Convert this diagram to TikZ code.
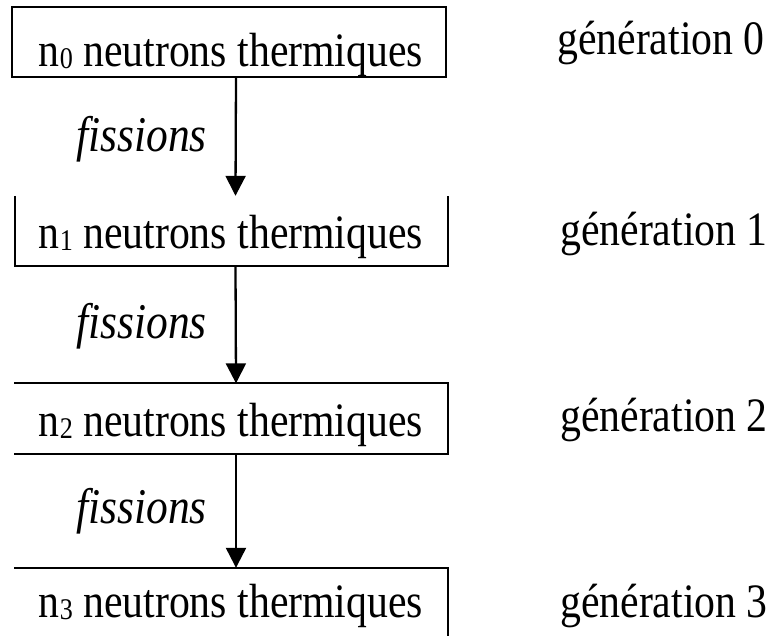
\documentclass[tikz,border=0pt]{standalone}
\usepackage{fontspec}
\setmainfont[FakeStretch=0.87]{Liberation Serif}
\usetikzlibrary{arrows.meta}
\newcommand{\lowidx}[1]{\raisebox{-2pt}{\fontsize{30}{30}\selectfont #1}}
\tikzset{
  box/.style={draw=none, minimum width=433pt, minimum height=70pt, inner sep=0pt},
  edge/.style={line width=2.3pt},
  lbl/.style={font=\fontsize{48}{52}\selectfont, inner sep=0pt, anchor=base},
  fis/.style={font=\fontsize{50}{54}\selectfont\itshape, inner sep=0pt, anchor=base west},
  gen/.style={font=\fontsize{48}{52}\selectfont, inner sep=0pt, anchor=base west},
  arr/.style={line width=2.3pt, -{Triangle[width=20pt,length=20pt]}}
}
\begin{document}
\begin{tikzpicture}[x=1pt,y=-1pt]
\useasboundingbox (0,0) rectangle (770,636);
\fill[white] (0,0) rectangle (770,636);
% boxes
\node[box] (b0) at (229,42) {};
\node[box] (b1) at (231.5,231) {};
\node[box] (b2) at (231,418.5) {};
\node[box] (b3) at (231,603) {};
\draw[edge] (b0.north west) rectangle (b0.south east);
\draw[edge] (b1.north west) -- (b1.south west) -- (b1.south east) -- (b1.north east);
\draw[edge] (b2.north west) -- (b2.north east) -- (b2.south east) -- (b2.south west);
\draw[edge] (b3.north west) -- (b3.north east) -- (b3.east |- 0,640);
% texts
\node[lbl] (t0) at (231,67) {n\lowidx{0} neutrons thermiques};
\node[lbl] (t1) at (231,248) {n\lowidx{1} neutrons thermiques};
\node[lbl] (t2) at (231,436) {n\lowidx{2} neutrons thermiques};
\node[lbl] (t3) at (231,617) {n\lowidx{3} neutrons thermiques};
% arrows
\draw[arr] ([xshift=7pt]b0.south) -- ([xshift=4pt]b1.north);
\draw[arr] ([xshift=4pt]b1.south) -- ([xshift=5pt]b2.north);
\draw[arr] ([xshift=5pt]b2.south) -- ([xshift=5pt]b3.north);
% fissions
\node[fis] (f0) at (76,152) {fissions};
\node[fis] (f1) at (76,338) {fissions};
\node[fis] (f2) at (76,523) {fissions};
% generations
\node[gen] (g0) at (557,55) {génération 0};
\node[gen] (g1) at (560,245) {génération 1};
\node[gen] (g2) at (560,431) {génération 2};
\node[gen] (g3) at (560,617) {génération 3};
\end{tikzpicture}
\end{document}
